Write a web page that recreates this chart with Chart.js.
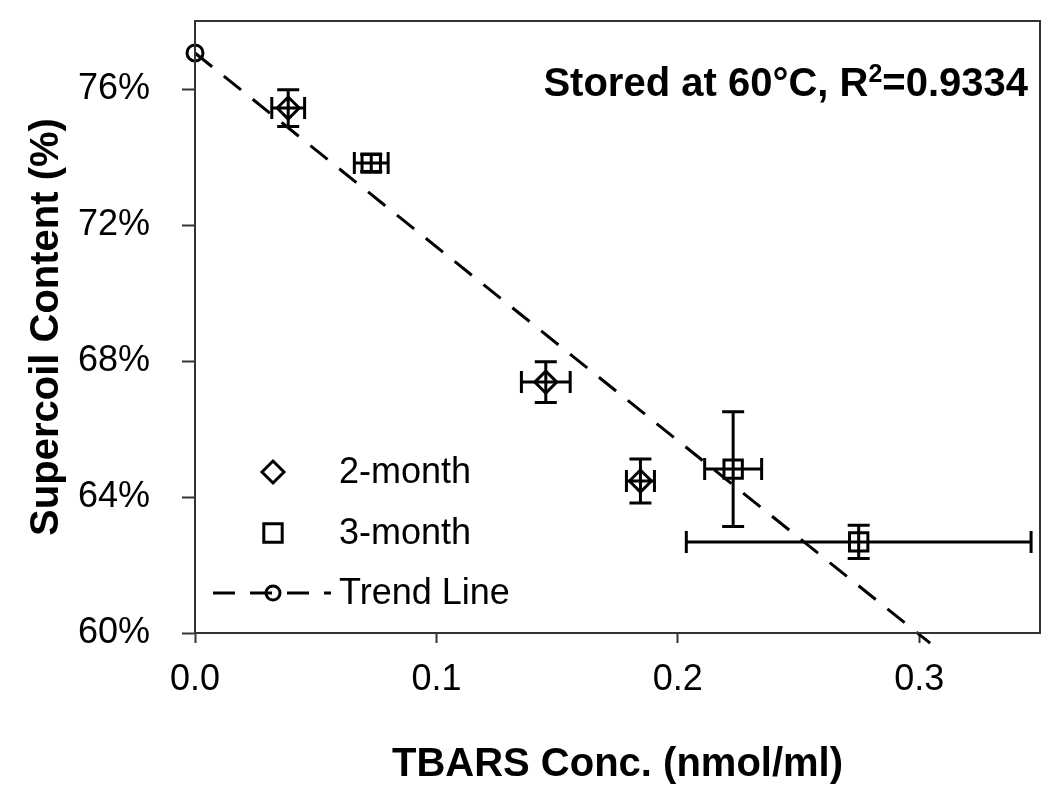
<!DOCTYPE html>
<html>
<head>
<meta charset="utf-8">
<script src="https://cdn.jsdelivr.net/npm/chart.js@4/dist/chart.umd.min.js"></script>
<style>
  body { margin: 0; background: #fff; }
  #wrap { width: 1050px; height: 806px; }
</style>
</head>
<body>
<div id="wrap"><canvas id="myChart1" width="1050" height="806"></canvas></div>
<script>
// values (x in nmol/ml, y in %)
const twoMonthX = [0.0386, 0.1453, 0.1845];
const twoMonthY = [75.44, 67.38, 64.47];
const twoMonthXErr = [0.0068, 0.0101, 0.0058];
const twoMonthYErr = [0.54, 0.6, 0.65];

const threeMonthX = [0.073, 0.2229, 0.2749];
const threeMonthY = [73.82, 64.82, 62.68];
const threeMonthXErr = [0.007, 0.0118, 0.0714];
const threeMonthYErr = [0.25, 1.69, 0.49];

const trendX = [0, 0.3045];
const trendY = [77.06, 59.7];

const xTicks = [0, 0.1, 0.2, 0.3];
const yTicks = [60, 64, 68, 72, 76];

const legendLabels = ["2-month", "3-month", "Trend Line"];
const annotation = ["Stored at 60\u00B0C, R", "2", "=0.9334"];

const FONT = "'Liberation Sans', Arial, sans-serif";
Chart.defaults.font.family = FONT;
Chart.defaults.color = "#000";

const toPoints = (xs, ys) => xs.map((x, i) => ({ x: x, y: ys[i] }));

// error bars, drawn through the scales
const errorBars = {
  id: "errorBars",
  afterDatasetsDraw(chart) {
    const ctx = chart.ctx;
    const xs = chart.scales.x;
    const ys = chart.scales.y;
    const sets = [
      [twoMonthX, twoMonthY, twoMonthXErr, twoMonthYErr],
      [threeMonthX, threeMonthY, threeMonthXErr, threeMonthYErr],
    ];
    const cap = 11;
    ctx.save();
    ctx.strokeStyle = "#000";
    ctx.lineWidth = 3;
    sets.forEach(([px, py, ex, ey]) => {
      px.forEach((x, i) => {
        const cx = xs.getPixelForValue(x);
        const cy = ys.getPixelForValue(py[i]);
        const x0 = xs.getPixelForValue(x - ex[i]);
        const x1 = xs.getPixelForValue(x + ex[i]);
        const y0 = ys.getPixelForValue(py[i] + ey[i]);
        const y1 = ys.getPixelForValue(py[i] - ey[i]);
        ctx.beginPath();
        ctx.moveTo(x0, cy); ctx.lineTo(x1, cy);
        ctx.moveTo(x0, cy - cap); ctx.lineTo(x0, cy + cap);
        ctx.moveTo(x1, cy - cap); ctx.lineTo(x1, cy + cap);
        ctx.moveTo(cx, y0); ctx.lineTo(cx, y1);
        ctx.moveTo(cx - cap, y0); ctx.lineTo(cx + cap, y0);
        ctx.moveTo(cx - cap, y1); ctx.lineTo(cx + cap, y1);
        ctx.stroke();
      });
    });
    ctx.restore();
  },
};

// frame, legend and the R² note
const extras = {
  id: "extras",
  afterDraw(chart) {
    const ctx = chart.ctx;
    const a = chart.chartArea;
    ctx.save();
    ctx.strokeStyle = "#333";
    ctx.lineWidth = 2;
    ctx.strokeRect(a.left, a.top, a.right - a.left, a.bottom - a.top);

    // annotation, right aligned
    ctx.fillStyle = "#000";
    ctx.textBaseline = "alphabetic";
    const big = "bold 40px " + FONT;
    const small = "bold 25px " + FONT;
    ctx.font = big;
    const w1 = ctx.measureText(annotation[0]).width;
    const w3 = ctx.measureText(annotation[2]).width;
    ctx.font = small;
    const w2 = ctx.measureText(annotation[1]).width;
    const baseY = a.top + 75;
    let tx = a.right - 12 - (w1 + w2 + w3);
    ctx.font = big;
    ctx.fillText(annotation[0], tx, baseY);
    tx += w1;
    ctx.font = small;
    ctx.fillText(annotation[1], tx, baseY - 14);
    tx += w2;
    ctx.font = big;
    ctx.fillText(annotation[2], tx, baseY);

    // legend
    const symX = a.left + 78;
    const textX = a.left + 144;
    const rows = [a.bottom - 161, a.bottom - 100, a.bottom - 40];
    ctx.font = "36px " + FONT;
    ctx.textBaseline = "middle";
    legendLabels.forEach((lab, i) => {
      ctx.fillText(lab, textX, rows[i] + 1);
    });
    ctx.lineWidth = 3;
    ctx.strokeStyle = "#000";
    ctx.fillStyle = "rgba(0,0,0,0)";
    Chart.helpers.drawPoint(ctx, { pointStyle: "rectRot", radius: 11, rotation: 0, borderWidth: 3 }, symX, rows[0]);
    Chart.helpers.drawPoint(ctx, { pointStyle: "rect", radius: 13, rotation: 0, borderWidth: 3 }, symX, rows[1]);
    ctx.beginPath();
    ctx.setLineDash([22, 15]);
    ctx.moveTo(a.left + 18, rows[2]);
    ctx.lineTo(a.left + 136, rows[2]);
    ctx.stroke();
    ctx.setLineDash([]);
    ctx.beginPath();
    ctx.arc(symX, rows[2], 7, 0, Math.PI * 2);
    ctx.stroke();
    ctx.restore();
  },
};

const ctx = document.getElementById("myChart1").getContext("2d");
const chart1 = new Chart(ctx, {
  type: "scatter",
  data: {
    datasets: [
      {
        label: legendLabels[0],
        data: toPoints(twoMonthX, twoMonthY),
        pointStyle: "rectRot",
        pointRadius: 11,
        pointBorderWidth: 3,
        borderColor: "#000",
        backgroundColor: "rgba(0,0,0,0)",
      },
      {
        label: legendLabels[1],
        data: toPoints(threeMonthX, threeMonthY),
        pointStyle: "rect",
        pointRadius: 13,
        pointBorderWidth: 3,
        borderColor: "#000",
        backgroundColor: "rgba(0,0,0,0)",
      },
      {
        label: legendLabels[2],
        data: toPoints(trendX, trendY),
        showLine: true,
        borderColor: "#000",
        borderWidth: 3,
        borderDash: [22, 15],
        pointStyle: "circle",
        pointRadius: [8, 0],
        pointBorderWidth: 3,
        pointBackgroundColor: "rgba(0,0,0,0)",
        clip: false,
      },
    ],
  },
  options: {
    responsive: false,
    animation: false,
    layout: { autoPadding: false, padding: { top: 21, right: 10, left: 0, bottom: 0 } },
    plugins: {
      legend: { display: false },
      tooltip: { enabled: false },
    },
    scales: {
      x: {
        type: "linear",
        min: 0,
        max: 0.35,
        afterFit: (s) => { s.height = 173; s.paddingLeft = 0; s.paddingRight = 0; },
        afterBuildTicks: (s) => { s.ticks = xTicks.map((v) => ({ value: v })); },
        ticks: {
          font: { size: 36 },
          color: "#000",
          padding: 15,
          callback: (v) => Number(v).toFixed(1),
        },
        grid: { drawOnChartArea: false, tickLength: 10, color: "#333", tickWidth: 2 },
        border: { color: "#333", width: 2 },
        title: {
          display: true,
          text: "TBARS Conc. (nmol/ml)",
          font: { size: 40, weight: "bold" },
          color: "#000",
          padding: { bottom: 17, top: 0 },
        },
      },
      y: {
        type: "linear",
        min: 60,
        max: 78,
        afterFit: (s) => { s.width = 195; s.paddingTop = 0; s.paddingBottom = 0; },
        afterBuildTicks: (s) => { s.ticks = yTicks.map((v) => ({ value: v })); },
        ticks: {
          font: { size: 36 },
          color: "#000",
          padding: 32,
          callback: (v) => v + "%",
        },
        grid: { drawOnChartArea: false, tickLength: 13, color: "#333", tickWidth: 2 },
        border: { color: "#333", width: 2 },
        title: {
          display: true,
          text: "Supercoil Content (%)",
          font: { size: 40, weight: "bold" },
          color: "#000",
          padding: { top: 23, bottom: 0 },
        },
      },
    },
  },
  plugins: [errorBars, extras],
});
</script>
</body>
</html>
